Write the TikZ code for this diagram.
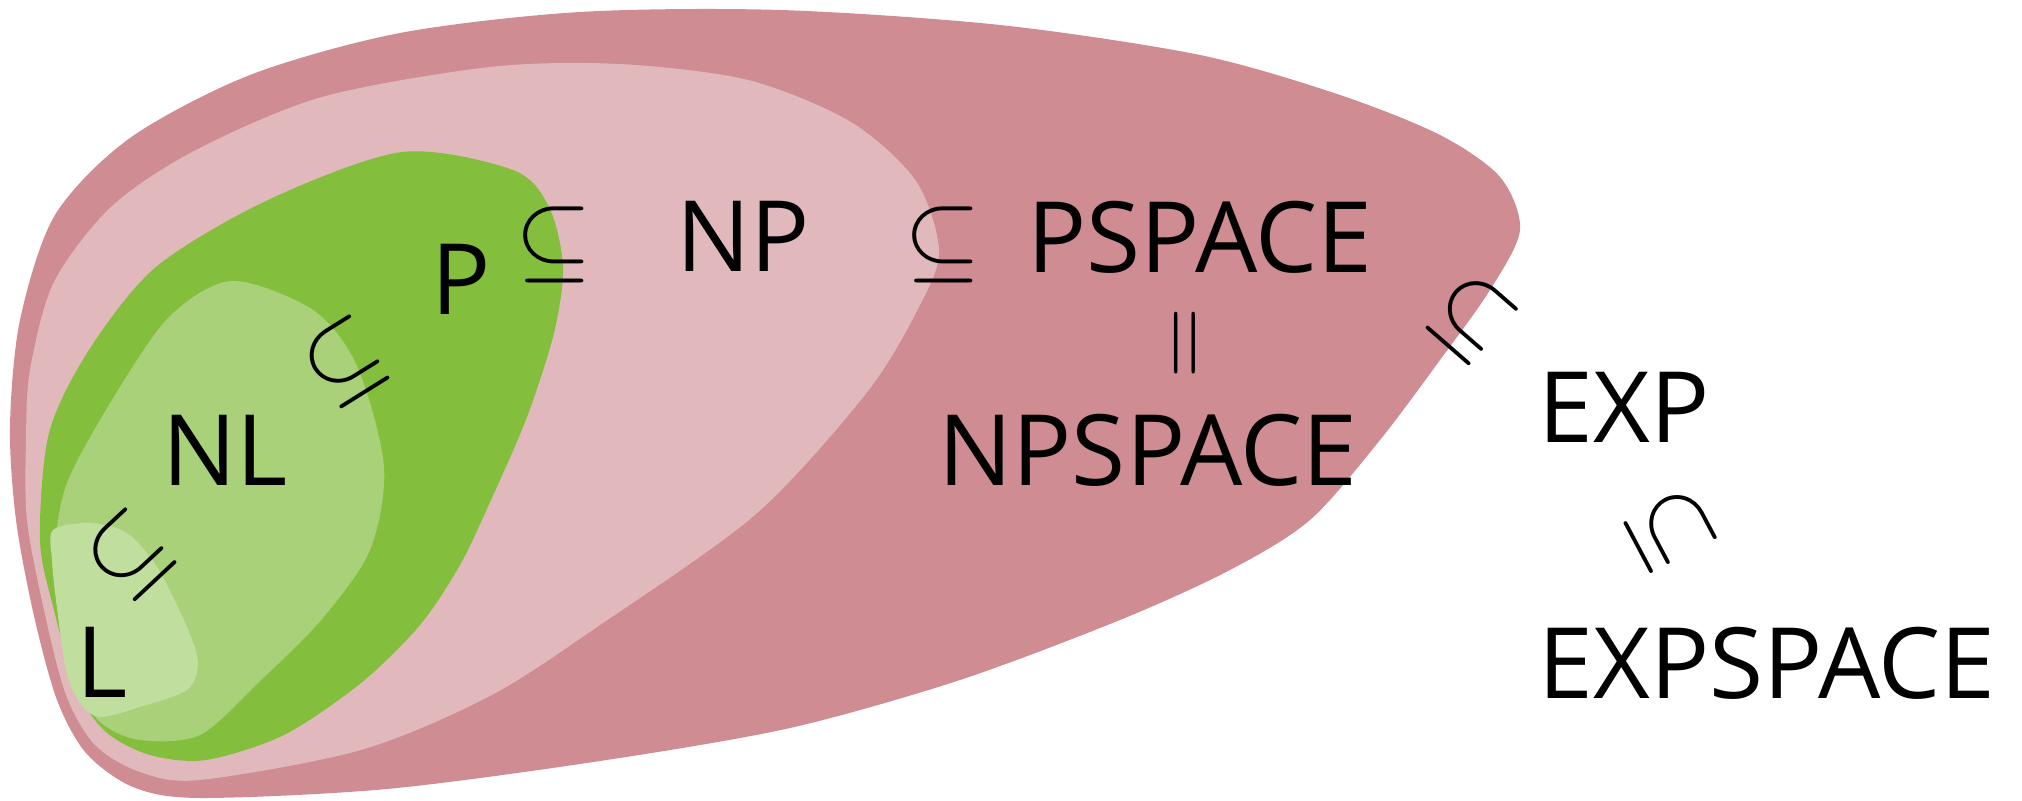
\RequirePackage{fix-cm}
\documentclass[tikz,border=0pt]{standalone}
\usepackage{fontspec}
\setmainfont{Open Sans}
\definecolor{pspacecol}{RGB}{207,140,146}
\definecolor{npcol}{RGB}{225,185,189}
\definecolor{pcol}{RGB}{132,190,61}
\definecolor{nlcol}{RGB}{169,209,122}
\definecolor{lcol}{RGB}{192,222,158}

\begin{document}
\begin{tikzpicture}[x=0.01cm, y=-0.01cm,
    cls/.style={font=\fontsize{28}{34}\selectfont, inner sep=0pt},
    rel/.style={font=\fontsize{28}{34}\selectfont, inner sep=0pt}]
    \useasboundingbox (0,0) rectangle (2022,801);

    % PSPACE
    \fill[pspacecol] plot[smooth cycle] coordinates {(10,426) (16,520) (34,616) (57,700) (86,753) (133,787) (200,798) (387,789) (600,761) (790,728) (960,680) (1120,620) (1230,570) (1310,520) (1380,440) (1440,360) (1490,290) (1520,230) (1500,177) (1440,135) (1340,95) (1200,55) (1000,25) (780,10) (580,12) (400,33) (250,75) (130,138) (55,215) (20,320)};
    % NP
    \fill[npcol] plot[smooth cycle] coordinates {(27,520) (26,440) (30,370) (54,282) (112,206) (196,150) (322,97) (490,67) (619,64) (748,80) (851,122) (916,181) (939,250) (921,303) (868,391) (756,514) (600,625) (490,696) (361,750) (200,780) (140,772) (95,745) (66,695) (44,610)};
    % P
    \fill[pcol] plot[smooth cycle] coordinates {(268,200) (402,152) (513,170) (549,207) (563,267) (554,333) (527,417) (491,500) (460,565) (420,625) (361,683) (284,735) (206,760) (150,755) (106,732) (77,690) (54,610) (40,540) (49,433) (89,350) (156,267)};
    % NL
    \fill[nlcol] plot[smooth cycle] coordinates {(232,281) (313,310) (357,366) (384,467) (370,550) (322,619) (258,683) (200,735) (140,740) (100,722) (75,680) (60,610) (55,550) (67,483) (112,400) (169,317)};
    % L
    \fill[lcol] plot[smooth cycle] coordinates {(53,530) (90,523) (127,533) (157,567) (187,627) (198,663) (187,690) (140,707) (100,717) (80,703) (66,670) (56,600) (52,560)};

    % Klassen
    \node[cls] (l) at (102,662) {L};
    \node[cls] (nl) at (225,450) {NL};
    \node[cls] (p) at (461,279) {P};
    \node[cls] (np) at (743,236) {NP};
    \node[cls] (pspace) at (1200,237) {PSPACE};
    \node[cls] (npspace) at (1148,450) {NPSPACE};
    \node[cls, anchor=west] (exp) at (1538,407) {EXP};
    \node[cls, anchor=west] (expspace) at (1538,663) {EXPSPACE};

    % Inklusionen
    \node[rel, rotate=43] (l-nl) at (130,555) {$\subseteq$};
    \node[rel, rotate=32] (nl-p) at (345,362) {$\subseteq$};
    \node[rel] (p-np) at (554,245) {$\subseteq$};
    \node[rel] (np-ps) at (943,245) {$\subseteq$};
    \node[rel, rotate=90] (ps-nps) at (1192,343) {$=$};
    \node[rel, rotate=-41] (ps-exp) at (1472,318) {$\subseteq$};
    \node[rel, rotate=-62] (exp-exps) at (1670,530) {$\subseteq$};
\end{tikzpicture}
\end{document}
